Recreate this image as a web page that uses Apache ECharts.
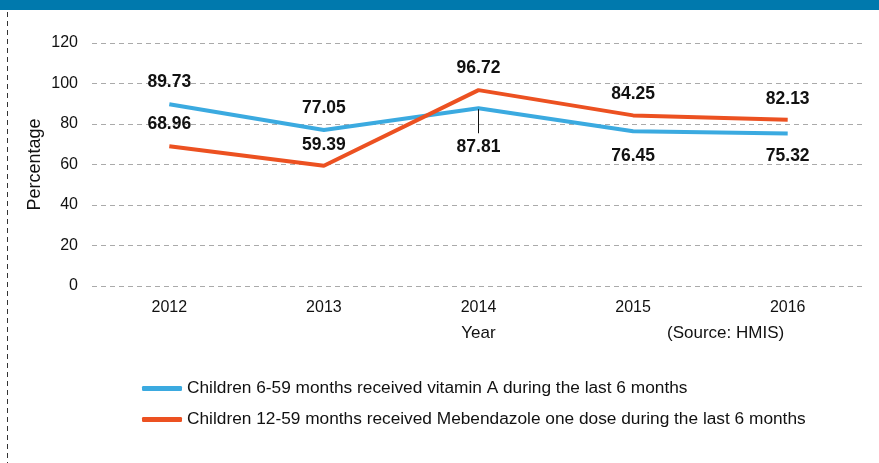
<!DOCTYPE html>
<html>
<head>
<meta charset="utf-8">
<script src="https://cdn.jsdelivr.net/npm/echarts@6/dist/echarts.min.js"></script>
<style>
  html, body { margin: 0; padding: 0; background: #fff; }
  #chart { width: 879px; height: 463px; }
</style>
</head>
<body>
<div id="chart"></div>
<script>
// 数据
const years = ['2012', '2013', '2014', '2015', '2016'];
const vitaminA = [89.73, 77.05, 87.81, 76.45, 75.32];
const mebendazole = [68.96, 59.39, 96.72, 84.25, 82.13];
const yTicks = [0, 20, 40, 60, 80, 100, 120];

// 蓝色标签位置：前两个在上方，其余在下方（2014 带引线）
const vitaminPos = ['top', 'top', 'bottom', 'bottom', 'bottom'];
const vitaminDist = [13, 13, 1, 16, 14];
const mebDist = [13, 12, 13, 12, 12];

const blue = '#3BAAE0';
const orange = '#EC5121';
const font = '"Liberation Sans", Arial, sans-serif';

const chart = echarts.init(document.getElementById('chart'), null, {renderer: 'canvas'});

const labelStyle = {
  show: true,
  fontFamily: font,
  fontWeight: 'bold',
  fontSize: 17.5,
  color: '#111',
  formatter: p => p.value.toFixed(2)
};

// 2014 蓝线标签：上方一条竖直引线
const leaderLabel = Object.assign({}, labelStyle, {
  formatter: p => '{bar|}\n{v|' + p.value.toFixed(2) + '}',
  rich: {
    bar: {width: 1, height: 24, backgroundColor: '#111', align: 'center'},
    v: {fontFamily: font, fontWeight: 'bold', fontSize: 17.5, color: '#111', lineHeight: 28, align: 'center'}
  }
});

chart.setOption({
  animation: false,
  title: {
    text: '(Source: HMIS)',
    left: 667,
    top: 325,
    padding: 0,
    textStyle: {fontFamily: font, fontSize: 17, fontWeight: 'normal', color: '#111'}
  },
  graphic: [
    {type: 'rect', shape: {x: 0, y: 0, width: 879, height: 10}, style: {fill: '#0079AD'}},
    {type: 'line', shape: {x1: 7.5, y1: 12, x2: 7.5, y2: 463}, style: {stroke: '#333', lineWidth: 1, lineDash: [5, 4]}}
  ],
  grid: {left: 92, right: 14, top: 43, bottom: 177},
  legend: {
    orient: 'vertical',
    left: 137,
    top: 375,
    itemWidth: 40,
    itemHeight: 5,
    itemGap: 14,
    icon: 'roundRect',
    textStyle: {fontFamily: font, fontSize: 17.3, color: '#111'},
    data: [
      'Children 6-59 months received vitamin A during the last 6 months',
      'Children 12-59 months received Mebendazole one dose during the last 6 months'
    ]
  },
  xAxis: {
    type: 'category',
    data: years,
    boundaryGap: true,
    name: 'Year',
    nameLocation: 'middle',
    nameGap: 39,
    nameTextStyle: {fontFamily: font, fontSize: 17, color: '#111'},
    axisLine: {show: false},
    axisTick: {show: false},
    axisLabel: {fontFamily: font, fontSize: 16, color: '#111', margin: 14}
  },
  yAxis: {
    type: 'value',
    min: yTicks[0],
    max: yTicks[yTicks.length - 1],
    interval: 20,
    name: 'Percentage',
    nameLocation: 'middle',
    nameGap: 48,
    nameMoveOverlap: false,
    nameTextStyle: {fontFamily: font, fontSize: 18, color: '#111'},
    axisLine: {show: false},
    axisTick: {show: false},
    axisLabel: {fontFamily: font, fontSize: 16, color: '#111', margin: 14},
    splitLine: {lineStyle: {color: '#aaa', type: [5, 4], width: 1}}
  },
  series: [
    {
      name: 'Children 6-59 months received vitamin A during the last 6 months',
      type: 'line',
      symbol: 'circle',
      symbolSize: 0,
      showSymbol: true,
      lineStyle: {color: blue, width: 4},
      itemStyle: {color: blue},
      z: 3,
      data: vitaminA.map((v, i) => ({
        value: v,
        label: Object.assign({}, i === 2 ? leaderLabel : labelStyle, {position: vitaminPos[i], distance: vitaminDist[i]})
      }))
    },
    {
      name: 'Children 12-59 months received Mebendazole one dose during the last 6 months',
      type: 'line',
      symbol: 'circle',
      symbolSize: 0,
      showSymbol: true,
      lineStyle: {color: orange, width: 4},
      itemStyle: {color: orange},
      z: 4,
      data: mebendazole.map((v, i) => ({
        value: v,
        label: Object.assign({}, labelStyle, {position: 'top', distance: mebDist[i]})
      }))
    }
  ]
});

window.addEventListener('resize', () => chart.resize());
</script>
</body>
</html>
